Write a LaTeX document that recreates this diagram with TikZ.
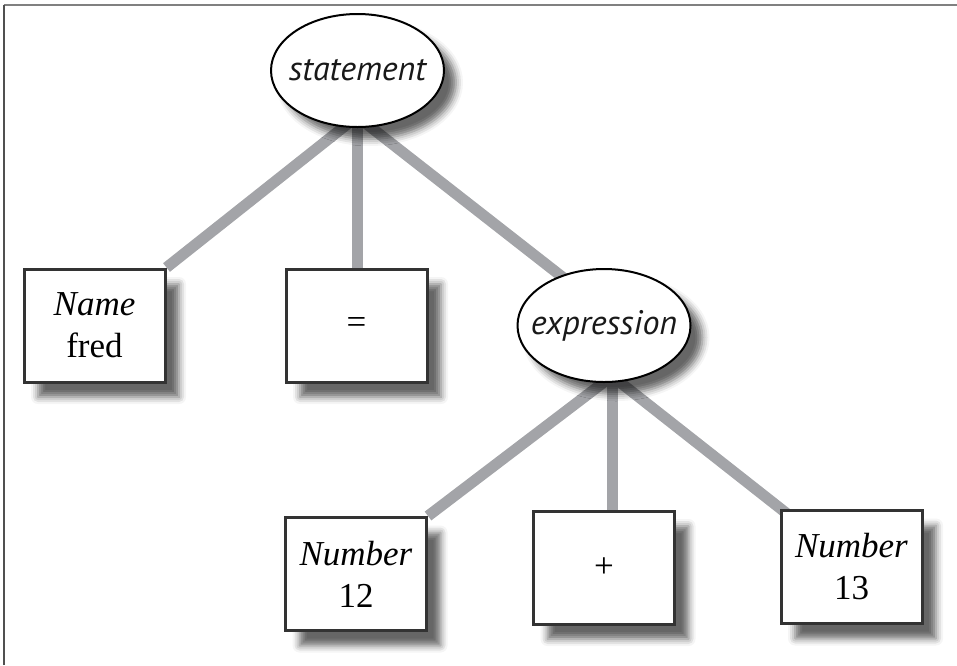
\documentclass[tikz,border=0pt]{standalone}
\usepackage{fontspec}
\setmainfont{Liberation Serif}
\newfontfamily\ellfont{PT Sans}
\usetikzlibrary{shapes.geometric,shadows.blur,backgrounds}
\definecolor{conn}{RGB}{163,164,168}
\definecolor{framegray}{RGB}{128,128,128}
\definecolor{frameleft}{RGB}{80,80,80}
\newcommand{\fixw}[1]{\makebox[0pt]{#1}}
\begin{document}
\begin{tikzpicture}[x=1pt,y=-1pt,
  leaf/.style={rectangle, draw=black!80, line width=3pt, fill=white,
    minimum width=141pt, minimum height=113pt, inner sep=0pt, align=center,
    font=\fontsize{35}{42}\selectfont,
    blur shadow={shadow xshift=14pt, shadow yshift=-15pt, shadow blur radius=7pt, shadow opacity=60}},
  nonterm/.style={ellipse, draw=black, line width=2pt, fill=white,
    minimum width=173pt, minimum height=113pt, inner sep=0pt,
    font=\ellfont\itshape\fontsize{34}{40}\selectfont, text=black!90,
    blur shadow={shadow xshift=12pt, shadow yshift=-12pt, shadow blur radius=7pt, shadow opacity=60}},
  link/.style={draw=conn, line width=11pt}
]
\useasboundingbox (0,0) rectangle (957,665);
\draw[framegray, line width=2pt] (3.5,4.5) -- (957,4.5);
\draw[frameleft, line width=2pt] (3.5,665) -- (3.5,4.5);

% junction points and hidden ends of connectors
\coordinate (sj) at (357,116.5);
\coordinate (ej) at (612,376);
\coordinate (exin) at (579,290);
\coordinate (n13in) at (795,520);

\node[nonterm] (st) at (357.5,70.5) {\fixw{statement}};
\node[leaf] (name) at (94.5,325.5) {\textit{Name}\\fred};
\node[leaf] (eq) at (356.5,325.5) {=};
\node[nonterm] (ex) at (604,325.5) {\fixw{expression}};
\node[leaf] (n12) at (356,574) {\textit{Number}\\12};
\node[leaf] (plus) at (604,567.5) {+};
\node[leaf] (n13) at (851.5,567) {\textit{Number}\\13};

\begin{scope}[on background layer]
  \draw[link] (sj) -- (name.north east);
  \draw[link] (sj) -- (sj |- eq.north);
  \draw[link] (sj) -- (exin);
  \draw[link] (ej) -- (n12.north east);
  \draw[link] (ej) -- (ej |- plus.north);
  \draw[link] (ej) -- (n13in);
\end{scope}
\end{tikzpicture}
\end{document}
